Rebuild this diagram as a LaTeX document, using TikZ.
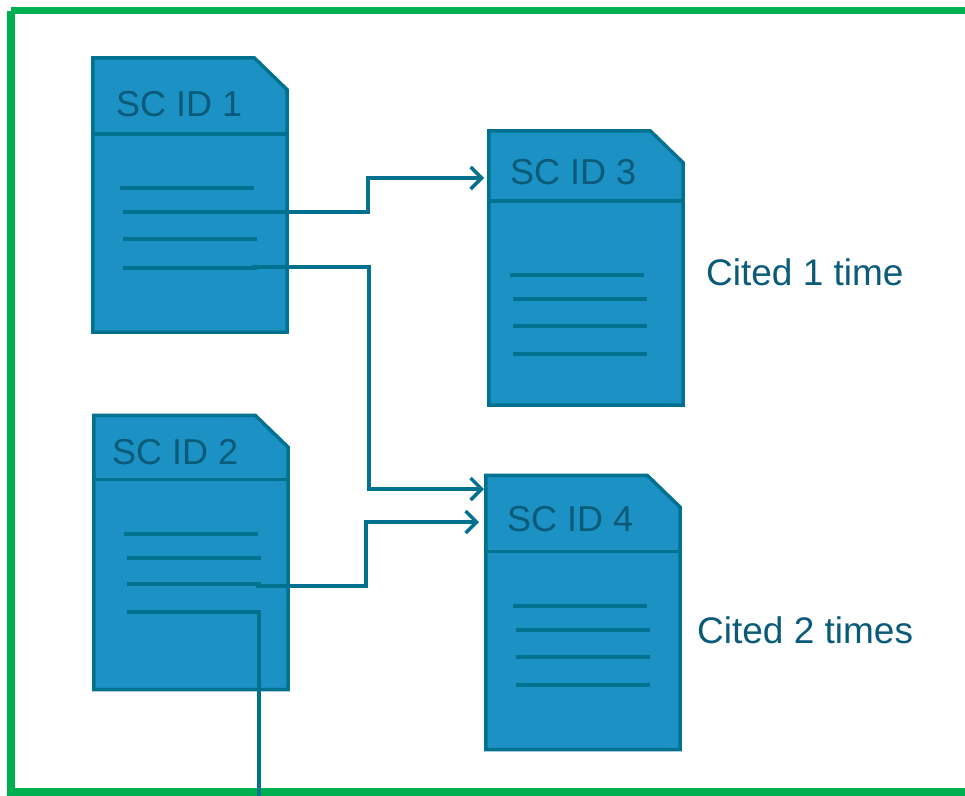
\documentclass[tikz,border=0pt]{standalone}
\usepackage{fontspec}
\setmainfont{Liberation Sans}
\usetikzlibrary{arrows.meta}
\definecolor{docfill}{HTML}{1B91C4}
\definecolor{docline}{HTML}{00718F}
\definecolor{doctext}{HTML}{0A5B7A}
\definecolor{gborder}{HTML}{00B050}
\tikzset{
  docnode/.style={minimum width=194pt, minimum height=274pt, inner sep=0pt, draw=none},
  docshape/.style={fill=docfill, draw=docline, line width=3.5pt, line join=miter},
  docedge/.style={draw=docline, line width=3.5pt},
  textline/.style={draw=docline, line width=4pt},
  doclabel/.style={text=doctext, inner sep=0pt, anchor=base west, font=\fontsize{36}{40}\selectfont},
  citelabel/.style={text=doctext, inner sep=0pt, anchor=base west, font=\fontsize{37}{42}\selectfont},
  conn/.style={draw=docline, line width=3.4pt, line join=miter},
  arr/.style={conn, -{Straight Barb[length=11pt, width=22pt]}},
}
\newcommand\drawdoc[2]{%
  \filldraw[docshape] (#1.north west) -- ([xshift=-33pt]#1.north east) -- ([yshift=-32pt]#1.north east) -- (#1.south east) -- (#1.south west) -- cycle;
  \draw[docedge] ([yshift=-#2pt]#1.north west) -- ([yshift=-#2pt]#1.north east);
}
\begin{document}
\begin{tikzpicture}[x=1pt, y=-1pt]
\useasboundingbox (0,0) rectangle (965,795);
\fill[white] (0,0) rectangle (965,795);
% green frame
\draw[gborder, line width=7.5pt] (11,10.5) -- (985,10.5) (11,10.5) -- (11,792) -- (985,792);

% documents
\node[docnode] (d1) at (190,195) {};
\node[docnode] (d2) at (191,552.5) {};
\node[docnode] (d3) at (586,268) {};
\node[docnode] (d4) at (583,612.5) {};
\drawdoc{d1}{76}
\drawdoc{d2}{64}
\drawdoc{d3}{70}
\drawdoc{d4}{76}

% titles
\node[doclabel] (l1) at (116,116) {SC ID 1};
\node[doclabel] (l2) at (112,464) {SC ID 2};
\node[doclabel] (l3) at (510,184) {SC ID 3};
\node[doclabel] (l4) at (507,531) {SC ID 4};

% text lines
\draw[textline] (120,188) -- (254,188) (123,212) -- (257,212) (123,239) -- (257,239) (123,268) -- (257,268);
\draw[textline] (510,275) -- (644,275) (513,299) -- (647,299) (513,326) -- (647,326) (513,354) -- (647,354);
\draw[textline] (124,534) -- (258,534) (127,558) -- (261,558) (127,584) -- (261,584) (127,612) -- (261,612);
\draw[textline] (513,606) -- (647,606) (516,630) -- (650,630) (516,657) -- (650,657) (516,685) -- (650,685);

% cited labels
\node[citelabel] (c1) at (706,285) {Cited 1 time};
\node[citelabel] (c2) at (697,643) {Cited 2 times};

% connector end points
\coordinate (s1) at (255,212);
\coordinate (s2) at (252,267);
\coordinate (s3) at (256,586);
\coordinate (s4) at (259,612);
\coordinate (e4) at (259,800);
\coordinate (t1) at (484,178);
\coordinate (t2) at (484,489);
\coordinate (t3) at (479,522);

\draw[arr] (s1) -- ++(113,0) |- (t1);
\draw[arr] (s2) -- ++(117,0) |- (t2);
\draw[arr] (s3) -- ++(110,0) |- (t3);
\draw[conn] (s4) -- (e4);
\end{tikzpicture}
\end{document}
